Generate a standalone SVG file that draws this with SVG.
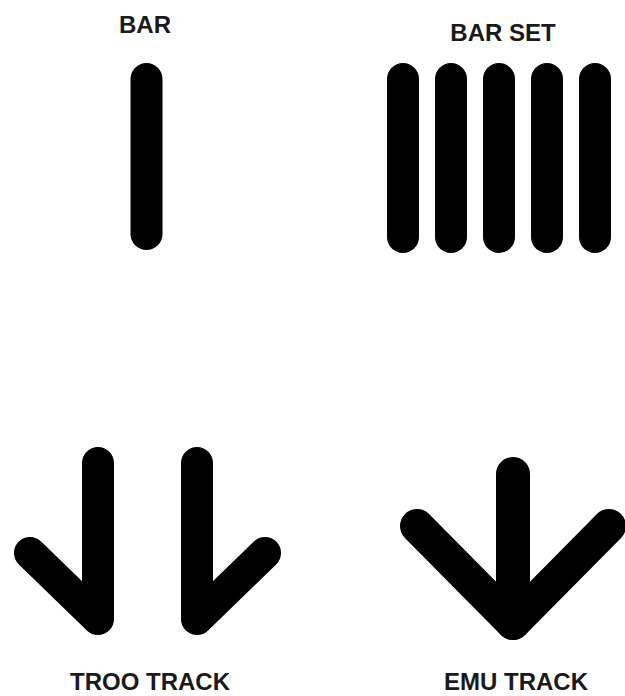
<svg xmlns="http://www.w3.org/2000/svg" width="625" height="696" viewBox="0 0 625 696">
<style>
.s{fill:none;stroke:#000;stroke-width:32;stroke-linecap:round;stroke-linejoin:round}
.t{font-family:"Liberation Sans",Arial,sans-serif;font-weight:bold;font-size:24px;fill:#1a1a1a;text-anchor:middle}
</style>
<rect width="625" height="696" fill="#fff"/>
<g id="bar">
<text class="t" x="145" y="33">BAR</text>
<line class="s" x1="146.5" y1="79" x2="146.5" y2="234"/>
</g>
<g id="bar-set">
<text class="t" x="503" y="41">BAR SET</text>
<line class="s" x1="403" y1="79" x2="403" y2="237"/>
<line class="s" x1="451" y1="79" x2="451" y2="237"/>
<line class="s" x1="499" y1="79" x2="499" y2="237"/>
<line class="s" x1="547" y1="79" x2="547" y2="237"/>
<line class="s" x1="595" y1="79" x2="595" y2="237"/>
</g>
<g id="troo-track">
<polyline class="s" points="98,463 98,619 30,553"/>
<polyline class="s" points="197,463 197,619 265,553"/>
<text class="t" x="150" y="690">TROO TRACK</text>
</g>
<g id="emu-track">
<polyline class="s" style="stroke-width:34" points="417,526 513,623 609,526"/>
<line class="s" style="stroke-width:34" x1="513" y1="474" x2="513" y2="623"/>
<text class="t" x="516" y="690">EMU TRACK</text>
</g>
</svg>
